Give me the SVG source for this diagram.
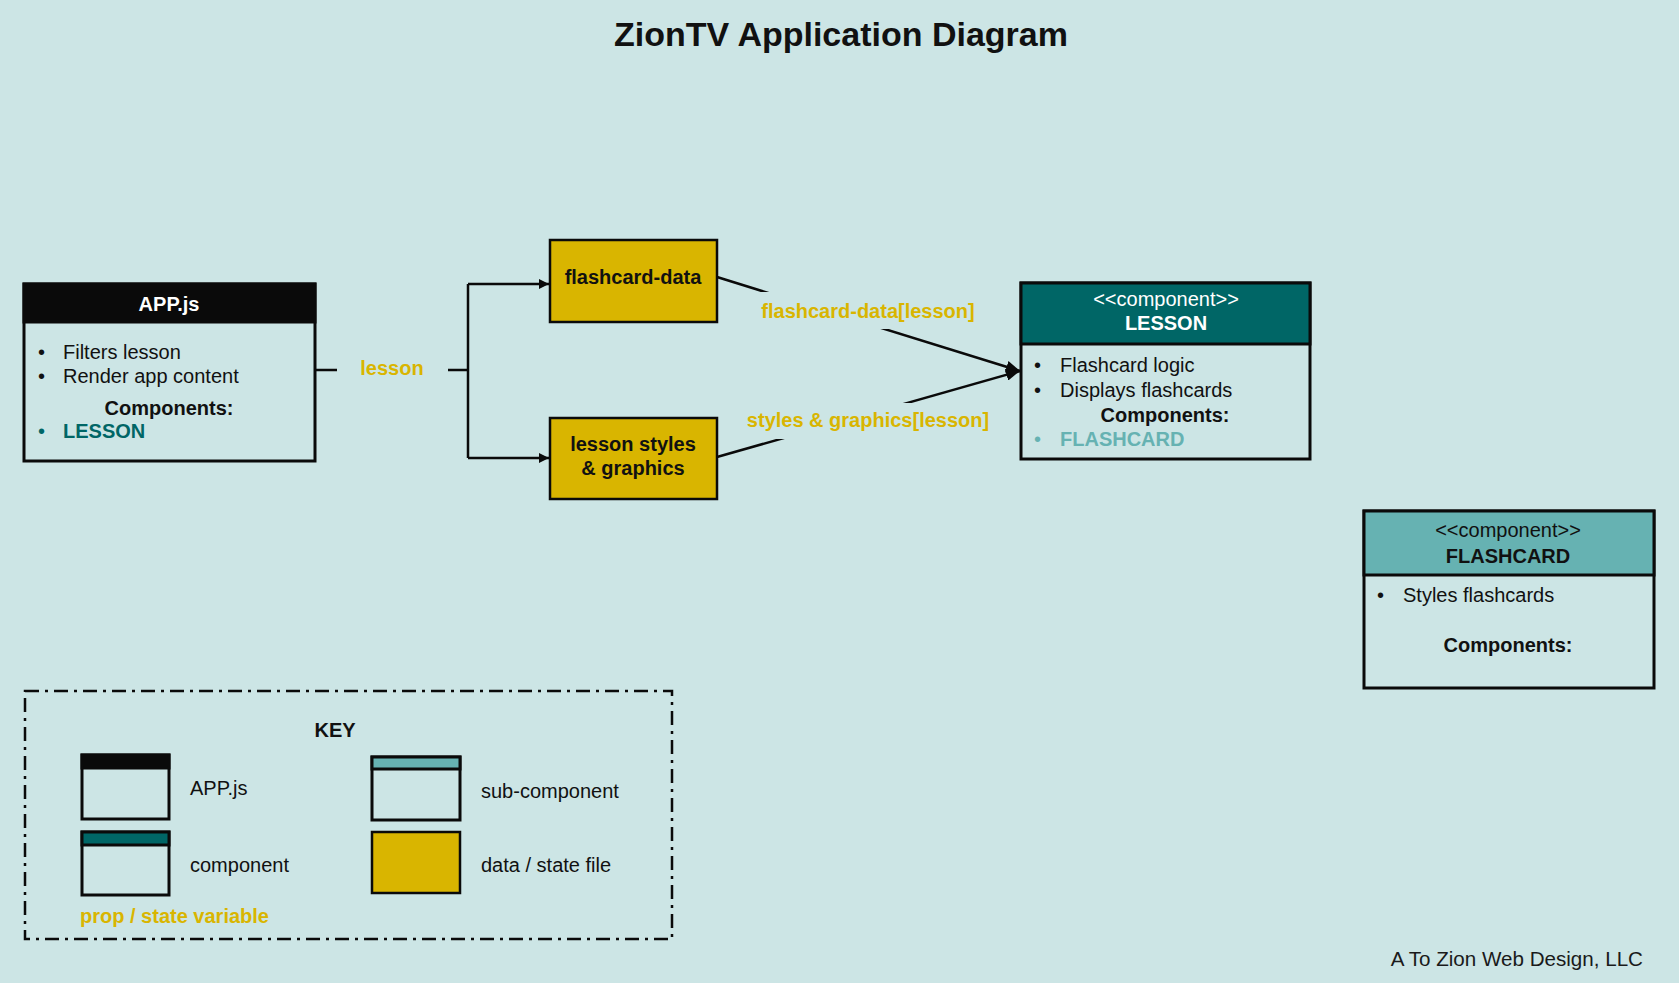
<svg xmlns="http://www.w3.org/2000/svg" width="1679" height="983" viewBox="0 0 1679 983">
<defs>
<style>
text{font-family:"Liberation Sans",Arial,sans-serif;font-size:20px;fill:#111;}
.b{font-weight:bold;}
.c{text-anchor:middle;}
.w{fill:#fff;}
.gold{fill:#D9B500;font-weight:bold;}
.box{fill:#CCE5E5;stroke:#0A0A0A;stroke-width:3;}
.data{fill:#D9B500;stroke:#0A0A0A;stroke-width:2.5;}
.ln{fill:none;stroke:#0A0A0A;stroke-width:2.5;}
.lbg{fill:#CCE5E5;}
</style>
<marker id="ah" viewBox="0 0 10 10" refX="10" refY="5" markerWidth="10" markerHeight="10" markerUnits="userSpaceOnUse" orient="auto">
<path d="M0,0 L10,5 L0,10 z" fill="#0A0A0A"/>
</marker>
<marker id="ah2" viewBox="0 0 14 12" refX="14" refY="6" markerWidth="14" markerHeight="12" markerUnits="userSpaceOnUse" orient="auto">
<path d="M0,0 L14,6 L0,12 z" fill="#0A0A0A"/>
</marker>
</defs>
<rect width="1679" height="983" fill="#CCE5E5"/>
<text class="b c" x="841" y="46" style="font-size:34px">ZionTV Application Diagram</text>

<g id="connectors">
<path class="ln" d="M315,370 H468"/>
<path class="ln" d="M468,284 V458"/>
<path class="ln" d="M468,284 H549" marker-end="url(#ah)"/>
<path class="ln" d="M468,458 H549" marker-end="url(#ah)"/>
<path class="ln" d="M717,277 L1020,371" marker-end="url(#ah2)"/>
<path class="ln" d="M717,457 L1020,371" marker-end="url(#ah2)"/>
<rect class="lbg" x="337" y="355" width="111" height="30"/>
<text class="gold c" x="392" y="375">lesson</text>
<rect class="lbg" x="740" y="292" width="255" height="37"/>
<text class="gold c" x="868" y="318">flashcard-data[lesson]</text>
<rect class="lbg" x="735" y="403" width="265" height="36"/>
<text class="gold c" x="868" y="427">styles &amp; graphics[lesson]</text>
</g>

<g id="app">
<rect class="box" x="24" y="284" width="291" height="177"/>
<rect x="24" y="284" width="291" height="38" fill="#0A0A0A" stroke="#0A0A0A" stroke-width="3"/>
<text class="b c w" x="169" y="311">APP.js</text>
<text x="38" y="359">•</text><text x="63" y="359">Filters lesson</text>
<text x="38" y="383">•</text><text x="63" y="383">Render app content</text>
<text class="b c" x="169" y="415">Components:</text>
<text x="38" y="438" style="fill:#006666">•</text><text class="b" x="63" y="438" style="fill:#006666">LESSON</text>
</g>

<g id="flashcard-data">
<rect class="data" x="550" y="240" width="167" height="82"/>
<text class="b c" x="633" y="284">flashcard-data</text>
</g>

<g id="lesson-styles">
<rect class="data" x="550" y="418" width="167" height="81"/>
<text class="b c" x="633" y="451">lesson styles</text>
<text class="b c" x="633" y="475">&amp; graphics</text>
</g>

<g id="lesson">
<rect class="box" x="1021" y="283" width="289" height="176"/>
<rect x="1021" y="283" width="289" height="61" fill="#006666" stroke="#0A0A0A" stroke-width="3"/>
<text class="c w" x="1166" y="306">&lt;&lt;component&gt;&gt;</text>
<text class="b c w" x="1166" y="330">LESSON</text>
<text x="1034" y="372">•</text><text x="1060" y="372">Flashcard logic</text>
<text x="1034" y="397">•</text><text x="1060" y="397">Displays flashcards</text>
<text class="b c" x="1165" y="422">Components:</text>
<text x="1034" y="446" style="fill:#66B2B2">•</text><text class="b" x="1060" y="446" style="fill:#66B2B2">FLASHCARD</text>
</g>

<g id="flashcard">
<rect class="box" x="1364" y="511" width="290" height="177"/>
<rect x="1364" y="511" width="290" height="64" fill="#66B2B2" stroke="#0A0A0A" stroke-width="3"/>
<text class="c" x="1508" y="537">&lt;&lt;component&gt;&gt;</text>
<text class="b c" x="1508" y="563">FLASHCARD</text>
<text x="1377" y="602">•</text><text x="1403" y="602">Styles flashcards</text>
<text class="b c" x="1508" y="652">Components:</text>
</g>

<g id="key">
<rect x="25" y="691" width="647" height="248" fill="none" stroke="#0A0A0A" stroke-width="2.5" stroke-dasharray="14,6,3,6"/>
<text class="b c" x="335" y="737">KEY</text>
<rect class="box" x="82" y="755" width="87" height="64"/>
<rect x="82" y="755" width="87" height="13" fill="#0A0A0A" stroke="#0A0A0A" stroke-width="3"/>
<text x="190" y="795">APP.js</text>
<rect class="box" x="372" y="757" width="88" height="63"/>
<rect x="372" y="757" width="88" height="12" fill="#66B2B2" stroke="#0A0A0A" stroke-width="3"/>
<text x="481" y="798">sub-component</text>
<rect class="box" x="82" y="832" width="87" height="63"/>
<rect x="82" y="832" width="87" height="13" fill="#006666" stroke="#0A0A0A" stroke-width="3"/>
<text x="190" y="872">component</text>
<rect class="data" x="372" y="832" width="88" height="61"/>
<text x="481" y="872">data / state file</text>
<text class="gold" x="80" y="923">prop / state variable</text>
</g>

<text x="1643" y="966" style="text-anchor:end;fill:#1a1a1a;font-size:20.6px">A To Zion Web Design, LLC</text>
</svg>
